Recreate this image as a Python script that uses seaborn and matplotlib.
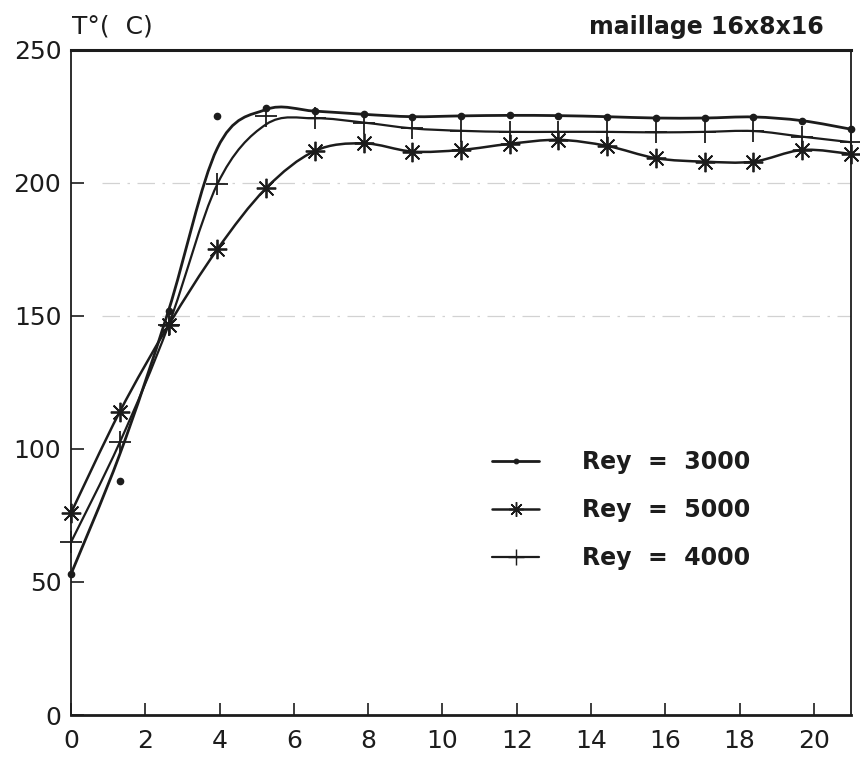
#Temperature profiles - maillage 16x8x16

import numpy as np
import seaborn as sns
import matplotlib.pyplot as plt
from matplotlib.path import Path
from matplotlib.patches import PathPatch
from matplotlib.lines import Line2D

#data
x_nodes = [0, 1.3125, 2.625, 3.9375, 5.25, 6.5625, 7.875, 9.1875, 10.5,
           11.8125, 13.125, 14.4375, 15.75, 17.0625, 18.375, 19.6875, 21.0]

# measured points (markers)
rey3000 = [53, 88, 152, 225, 228.3, 227, 225.8, 224.9, 225.2, 225.4, 225.3,
           224.9, 224.4, 224.4, 224.8, 223.4, 220.2]
rey5000 = [76, 114, 146.5, 175, 198, 212, 214.9, 211.8, 212.4, 214.7, 216.2,
           213.9, 209.3, 208, 208, 212.4, 210.9]
rey4000 = [65, 102.5, 146.5, 199.5, 225, 224.3, 222.7, 220.5, 219.6, 219.2,
           219.2, 219.2, 219, 219.2, 219.5, 217.4, 215.3]

# smoothed curves as drawn on the original (they miss a few points)
fit3000 = [53, 98, 152, 213, 227.6, 227, 225.8, 224.9, 225.2, 225.4, 225.3,
           224.9, 224.4, 224.4, 224.8, 223.4, 220.2]
fit5000 = rey5000
fit4000 = [65, 102.5, 146.5, 199.5, 222, 224.3, 222.7, 220.5, 219.6, 219.2,
           219.2, 219.2, 219, 219.2, 219.5, 217.4, 215.3]

labels = ["Rey  =  3000", "Rey  =  5000", "Rey  =  4000"]
x_ticks = [0, 2, 4, 6, 8, 10, 12, 14, 16, 18, 20]
y_ticks = [0, 50, 100, 150, 200, 250]
grid_levels = [150, 200]

ink = "#1c1c1c"


def spline_path(xs, ys):
    # catmull-rom spline turned into bezier segments, drawn by matplotlib
    pts = np.column_stack([xs, ys]).astype(float)
    p = np.vstack([pts[0], pts, pts[-1]])
    verts = [pts[0]]
    codes = [Path.MOVETO]
    for i in range(1, len(p) - 2):
        p0, p1, p2, p3 = p[i - 1], p[i], p[i + 1], p[i + 2]
        verts += [p1 + (p2 - p0) / 6, p2 - (p3 - p1) / 6, p2]
        codes += [Path.CURVE4] * 3
    return Path(verts, codes)


sns.set_style("ticks")
plt.rcParams['font.family'] = ['DejaVu Sans']

fig = plt.figure(figsize=(8.6, 7.68), dpi=100)
ax = fig.add_axes([0.0826, 0.069, 0.9069, 0.866])

for lvl in grid_levels:
    ax.axhline(lvl, xmin=0.04, xmax=1, color="#d2d2d2", lw=0.9,
               ls=(0, (14, 6, 2, 6)), zorder=0)

series = [
    (rey3000, fit3000, "o", 4.5, 1.0, 2.0),
    (rey5000, fit5000, (8, 2, 0), 14, 1.3, 1.8),
    (rey4000, fit4000, "+", 16, 1.3, 1.6),
]

handles = []
for pts, fit, mk, ms, mew, lw in series:
    ax.add_patch(PathPatch(spline_path(x_nodes, fit), facecolor="none",
                           edgecolor=ink, lw=lw, clip_on=False, zorder=2))
    sns.lineplot(x=x_nodes, y=pts, ax=ax, color=ink, linestyle="none",
                 marker=mk, markersize=ms, markeredgewidth=mew,
                 markeredgecolor=ink, errorbar=None, clip_on=False, zorder=3)
    handles.append(Line2D([], [], color=ink, lw=lw, marker=mk,
                          markersize=ms * 0.75, markeredgewidth=mew * 0.8,
                          markeredgecolor=ink))

ax.set_xlim(0, 21)
ax.set_ylim(0, 250)
ax.set_xticks(x_ticks)
ax.set_yticks(y_ticks)
ax.set_xlabel("")
ax.set_ylabel("")
ax.tick_params(direction="in", length=9, width=1.2, colors=ink,
               labelsize=18)
ax.tick_params(axis="x", pad=10)
ax.tick_params(axis="y", pad=7)

for side in ["top", "bottom", "left", "right"]:
    ax.spines[side].set_visible(True)
    ax.spines[side].set_color(ink)
ax.spines["top"].set_linewidth(2.2)
ax.spines["bottom"].set_linewidth(2.0)
ax.spines["left"].set_linewidth(1.3)
ax.spines["right"].set_linewidth(1.3)

ax.legend(handles, labels, loc="upper left", bbox_to_anchor=(0.540, 0.398),
          frameon=False, borderpad=0, borderaxespad=0, handlelength=2.0,
          handletextpad=1.8, labelspacing=1.02,
          prop={"weight": "bold", "size": 17}, labelcolor=ink)

fig.text(0.0835, 0.965, "T°(  C)", fontsize=18, color=ink,
         ha="left", va="center")
fig.text(0.958, 0.965, "maillage 16x8x16", fontsize=17, color=ink,
         fontweight="bold", ha="right", va="center")

fig.savefig("out.png", dpi=100, facecolor="white")
